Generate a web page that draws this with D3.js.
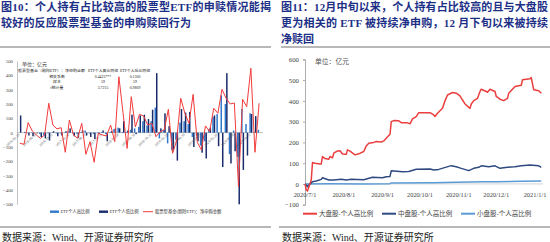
<!DOCTYPE html>
<html>
<head>
<meta charset="utf-8">
<script src="https://cdn.jsdelivr.net/npm/d3@7/dist/d3.min.js"></script>
<style>
body{margin:0;background:#fff;}
svg{display:block;}
text{font-family:"Liberation Serif","Noto Sans CJK SC",serif;}
</style>
</head>
<body>
<svg id="chart" width="550" height="242"></svg>
<script>
// ---- 图10 data (monthly, 亿元) ----
var months = ("2016-02-29 2016-03-31 2016-04-30 2016-05-31 2016-06-30 2016-07-31 2016-08-31 2016-09-30 2016-10-31 2016-11-30 2016-12-31 " +
    "2017-01-31 2017-02-28 2017-03-31 2017-04-30 2017-05-31 2017-06-30 2017-07-31 2017-08-31 2017-09-30 2017-10-31 2017-11-30 2017-12-31 " +
    "2018-01-31 2018-02-28 2018-03-31 2018-04-30 2018-05-31 2018-06-30 2018-07-31 2018-08-31 2018-09-30 2018-10-31 2018-11-30 2018-12-31 " +
    "2019-01-31 2019-02-28 2019-03-31 2019-04-30 2019-05-31 2019-06-30 2019-07-31 2019-08-31 2019-09-30 2019-10-31 2019-11-30 2019-12-31 " +
    "2020-01-31 2020-02-29 2020-03-31 2020-04-30 2020-05-31 2020-06-30 2020-07-31 2020-08-31 2020-09-30 2020-10-31 2020-11-30 2020-12-31").split(" ");
var fundFlow = [-74,-81,70,12,-16,-40,-16,205,53,26,35,-137,88,-16,-40,65,-151,-63,-207,-5,-16,-23,53,-63,390,140,-110,251,40,128,
    116,53,65,-28,7,19,163,-144,-58,240,135,65,267,-67,-120,47,7,170,135,302,240,200,207,-377,233,181,449,-137,205];
var etfHigh = [0,0,-3,-3,0,-10,-20,-5,3,-5,-5,3,10,-5,-8,5,15,-5,-10,-3,5,-10,3,25,35,5,5,20,30,40,
    80,50,80,175,-40,20,-75,-120,-50,70,80,60,-30,-20,-90,-60,25,110,130,260,200,-150,15,-170,165,60,135,5,20];
var etfLow = [120,5,-20,-25,-5,-30,-40,-55,10,-25,-20,10,30,-25,-35,15,-20,-30,-45,-10,15,-60,10,30,30,80,15,125,-10,120,
    125,95,160,415,30,135,45,-130,-195,165,140,145,-100,-60,-140,-180,35,120,-95,-240,415,-215,-130,-500,-260,-160,130,115,0];
var leftTicks = [500,400,300,200,100,0,-100,-200,-300,-400,-500];
var statHead = ["股票型基金（剔除ETF）：净申购金额","ETF个人高比例组","ETF个人低比例组"];
var statRows = [["相关系数","0.4423***","0.1300"],["样本","59","59"],["t统计量","3.7215","0.9809"]];

// ---- 图11 data (累计净申购, 亿元) ----
var largeDates = ["2020-07-01","2020-07-02","2020-07-03","2020-07-06","2020-07-07","2020-07-09","2020-07-13","2020-07-14","2020-07-15","2020-07-17","2020-07-20","2020-07-21","2020-07-23","2020-07-24","2020-07-27","2020-07-29","2020-07-31",
    "2020-08-03","2020-08-04","2020-08-06","2020-08-10","2020-08-13","2020-08-17","2020-08-19","2020-08-21","2020-08-25","2020-08-27","2020-08-31",
    "2020-09-02","2020-09-04","2020-09-07","2020-09-08","2020-09-10","2020-09-14","2020-09-16","2020-09-21","2020-09-23","2020-09-25","2020-09-28","2020-09-30",
    "2020-10-09","2020-10-12","2020-10-13","2020-10-15","2020-10-19","2020-10-21","2020-10-23","2020-10-27","2020-10-30",
    "2020-11-02","2020-11-04","2020-11-06","2020-11-10","2020-11-11","2020-11-13","2020-11-16","2020-11-18","2020-11-19","2020-11-23","2020-11-24","2020-11-26","2020-11-30",
    "2020-12-01","2020-12-04","2020-12-07","2020-12-10","2020-12-11","2020-12-16","2020-12-21","2020-12-22","2020-12-28","2020-12-29","2020-12-31","2021-01-04","2021-01-06"];
var largeVals = [0,-29,-34,19,103,100,96,96,132,122,119,132,125,148,159,160,144,
    143,164,158,140,145,156,183,196,200,204,202,
    207,220,239,300,305,304,295,294,289,313,324,343,
    343,332,325,340,364,400,428,440,437,
    424,404,385,364,385,401,412,445,456,445,441,456,445,
    421,408,401,412,437,469,475,501,506,512,453,449,437];
var midDates = ["2020-07-01","2020-07-03","2020-07-07","2020-07-10","2020-07-14","2020-07-15","2020-07-20","2020-07-24","2020-07-30",
    "2020-08-03","2020-08-07","2020-08-17","2020-08-24","2020-09-01","2020-09-04","2020-09-07","2020-09-08","2020-09-17","2020-09-22","2020-09-28",
    "2020-10-09","2020-10-12","2020-10-16","2020-10-26","2020-10-30","2020-11-03","2020-11-09","2020-11-13","2020-11-17","2020-11-19","2020-11-25","2020-11-30",
    "2020-12-04","2020-12-10","2020-12-16","2020-12-21","2020-12-28","2021-01-04","2021-01-06"];
var midVals = [0,-13,11,14,22,30,19,19,22, 19,22,20,32,30,35,36,63,59,60,71, 72,67,70,88,83,75,64,75,80,87,83,87, 75,80,83,87,91,87,80];
var smallDates = ["2020-07-01","2020-07-20","2020-08-17","2020-09-07","2020-09-08","2020-10-12","2020-10-30","2020-11-20","2020-12-01","2020-12-21","2021-01-06"];
var smallVals = [0,1,0,1,5,6,8,10,11,13,14];
var rightTicks = [600,500,400,300,200,100,0,-100];
var rightDateTicks = ["2020-07-01","2020-08-01","2020-09-01","2020-10-01","2020-11-01","2020-12-01","2021-01-01"];

var titleColor = "#1c2f86";
var svg = d3.select("#chart");

d3.select(window).on('load', init);

function init() {
    frame();
    leftChart();
    rightChart();
}

function frame() {
    var t = svg.append("g").attr("fill", titleColor).attr("font-weight", 700).attr("font-size", 11);
    t.append("text").attr("x", 1).attr("y", 11).attr("textLength", 270).attr("lengthAdjust", "spacing")
        .text("图10：个人持有占比较高的股票型ETF的申赎情况能揭");
    t.append("text").attr("x", 1).attr("y", 27).attr("textLength", 190).attr("lengthAdjust", "spacing")
        .text("较好的反应股票型基金的申购赎回行为");
    t.append("text").attr("x", 281).attr("y", 11).attr("textLength", 267).attr("lengthAdjust", "spacing")
        .text("图11：12月中旬以来，个人持有占比较高的且与大盘股");
    t.append("text").attr("x", 281).attr("y", 27).attr("textLength", 267).attr("lengthAdjust", "spacing")
        .text("更为相关的 ETF 被持续净申购，12 月下旬以来被持续");
    t.append("text").attr("x", 281).attr("y", 42.5).text("净赎回");

    // grey rules
    [[0, 271, 47], [281, 550, 47], [0, 271, 227], [279, 550, 227]].forEach(function(r) {
        svg.append("line").attr("x1", r[0]).attr("x2", r[1]).attr("y1", r[2]).attr("y2", r[2])
            .attr("stroke", "#a0a0a0").attr("stroke-width", 1.6);
    });

    svg.append("text").attr("x", 2).attr("y", 241).attr("font-size", 10).attr("fill", "#222")
        .text("数据来源：Wind、开源证券研究所");
    svg.append("text").attr("x", 282).attr("y", 241).attr("font-size", 10).attr("fill", "#222")
        .text("数据来源：Wind、开源证券研究所");
}

function leftChart() {
    var g = svg.append("g");
    var x = d3.scaleBand().domain(months).range([18, 261]).paddingInner(0.28).paddingOuter(0.1);
    var x1 = d3.scaleBand().domain(["high", "low"]).range([0, x.bandwidth()]);
    var y = d3.scaleLinear().domain([-500, 500]).range([204.3, 61]);

    // y axis
    var ya = g.append("g").attr("transform", "translate(17,0)")
        .call(d3.axisLeft(y).tickValues(leftTicks).tickSize(0).tickPadding(4));
    ya.select(".domain").attr("stroke", "#9a9a9a").attr("stroke-width", 0.6);
    ya.selectAll("text").attr("font-size", 4.8).attr("fill", "#444");

    // zero line
    g.append("line").attr("x1", 17).attr("x2", 263).attr("y1", y(0)).attr("y2", y(0))
        .attr("stroke", "#9a9a9a").attr("stroke-width", 0.6);

    var rows = months.map(function(m, i) { return {m: m, high: etfHigh[i], low: etfLow[i], flow: fundFlow[i]}; });

    g.selectAll(".barH").data(rows).enter().append("rect")
        .attr("x", function(d) { return x(d.m) + x1("high"); })
        .attr("y", function(d) { return y(Math.max(0, d.high)); })
        .attr("width", x1.bandwidth())
        .attr("height", function(d) { return Math.abs(y(d.high) - y(0)); })
        .attr("fill", "#2f78cc");
    g.selectAll(".barL").data(rows).enter().append("rect")
        .attr("x", function(d) { return x(d.m) + x1("low"); })
        .attr("y", function(d) { return y(Math.max(0, d.low)); })
        .attr("width", x1.bandwidth())
        .attr("height", function(d) { return Math.abs(y(d.low) - y(0)); })
        .attr("fill", "#182b6b");

    // x labels, rotated, every 4th month
    var xl = g.append("g");
    months.forEach(function(m, i) {
        if (i % 4 !== 0) return;
        var cx = x(m) + x.bandwidth() / 2;
        xl.append("text").attr("transform", "translate(" + cx + "," + (y(0) + 2.5) + ") rotate(-42)")
            .attr("text-anchor", "end").attr("font-size", 3.6).attr("fill", "#555").text(m);
    });

    var line = d3.line().x(function(d) { return x(d.m) + x.bandwidth() / 2; }).y(function(d) { return y(d.flow); });
    g.append("path").datum(rows).attr("d", line).attr("fill", "none").attr("stroke", "#f23b3b").attr("stroke-width", 1);

    // unit + stats table
    g.append("text").attr("x", 22).attr("y", 66).attr("font-size", 5).attr("fill", "#333").text("单位：亿元");
    var tb = g.append("g").attr("font-size", 3.9).attr("fill", "#222");
    tb.append("text").attr("x", 18).attr("y", 72).attr("textLength", 67).attr("lengthAdjust", "spacingAndGlyphs").text(statHead[0]);
    tb.append("text").attr("x", 88).attr("y", 72).attr("textLength", 30).attr("lengthAdjust", "spacingAndGlyphs").text(statHead[1]);
    tb.append("text").attr("x", 120).attr("y", 72).attr("textLength", 30).attr("lengthAdjust", "spacingAndGlyphs").text(statHead[2]);
    statRows.forEach(function(r, i) {
        var yy = 77.8 + i * 5.6;
        tb.append("text").attr("x", 57).attr("y", yy).attr("text-anchor", "middle").text(r[0]);
        tb.append("text").attr("x", 103).attr("y", yy).attr("text-anchor", "middle").text(r[1]);
        tb.append("text").attr("x", 135).attr("y", yy).attr("text-anchor", "middle").text(r[2]);
    });

    // legend
    var lg = g.append("g").attr("font-size", 4.3).attr("fill", "#333");
    lg.append("rect").attr("x", 50).attr("y", 210.5).attr("width", 9).attr("height", 2.4).attr("fill", "#2f78cc");
    lg.append("text").attr("x", 60.5).attr("y", 213.3).text("ETF个人高比例");
    lg.append("rect").attr("x", 99).attr("y", 210.5).attr("width", 9).attr("height", 2.4).attr("fill", "#182b6b");
    lg.append("text").attr("x", 109.5).attr("y", 213.3).text("ETF个人低比例");
    lg.append("line").attr("x1", 143).attr("x2", 153).attr("y1", 211.7).attr("y2", 211.7).attr("stroke", "#f23b3b").attr("stroke-width", 1);
    lg.append("text").attr("x", 155).attr("y", 213.3).text("股票型基金(剔除ETF)：净申购金额");
}

function rightChart() {
    var g = svg.append("g");
    var parse = d3.timeParse("%Y-%m-%d");
    var x = d3.scaleTime().domain([parse("2020-07-01"), parse("2021-01-01")]).range([305, 535]);
    var y = d3.scaleLinear().domain([-100, 600]).range([204.7, 59.3]);

    var ya = g.append("g").attr("transform", "translate(305,0)")
        .call(d3.axisLeft(y).tickValues(rightTicks).tickSize(2).tickPadding(4));
    ya.selectAll(".domain, line").attr("stroke", "#8a8a8a").attr("stroke-width", 0.7);
    ya.selectAll("text").attr("font-size", 6.8).attr("fill", "#444");

    g.append("line").attr("x1", 305).attr("x2", 543).attr("y1", y(0)).attr("y2", y(0))
        .attr("stroke", "#bdbdbd").attr("stroke-width", 0.7);

    rightDateTicks.forEach(function(s) {
        var d = parse(s);
        g.append("text").attr("x", x(d)).attr("y", 196.5).attr("text-anchor", "middle")
            .attr("font-size", 6.4).attr("fill", "#444").text(d3.timeFormat("%Y/%-m/%-d")(d));
    });

    g.append("text").attr("x", 315).attr("y", 64).attr("font-size", 6.8).attr("fill", "#555").text("单位：亿元");

    function series(dates, vals, color) {
        var pts = dates.map(function(s, i) { return [parse(s), vals[i]]; });
        g.append("path").datum(pts)
            .attr("d", d3.line().x(function(d) { return x(d[0]); }).y(function(d) { return y(d[1]); }))
            .attr("fill", "none").attr("stroke", color).attr("stroke-width", 1.5).attr("stroke-linejoin", "round");
    }
    series(smallDates, smallVals, "#5b9bd5");
    series(midDates, midVals, "#2e4a80");
    series(largeDates, largeVals, "#ea3f3f");

    var lg = g.append("g").attr("font-size", 6.5).attr("fill", "#444");
    [["大盘股-个人高比例", "#ea3f3f", 303], ["中盘股-个人高比例", "#2e4a80", 382], ["小盘股-个人高比例", "#5b9bd5", 461]].forEach(function(l) {
        lg.append("line").attr("x1", l[2]).attr("x2", l[2] + 14).attr("y1", 213.7).attr("y2", 213.7)
            .attr("stroke", l[1]).attr("stroke-width", 2);
        lg.append("text").attr("x", l[2] + 16).attr("y", 216).text(l[0]);
    });
}
</script>
</body>
</html>
